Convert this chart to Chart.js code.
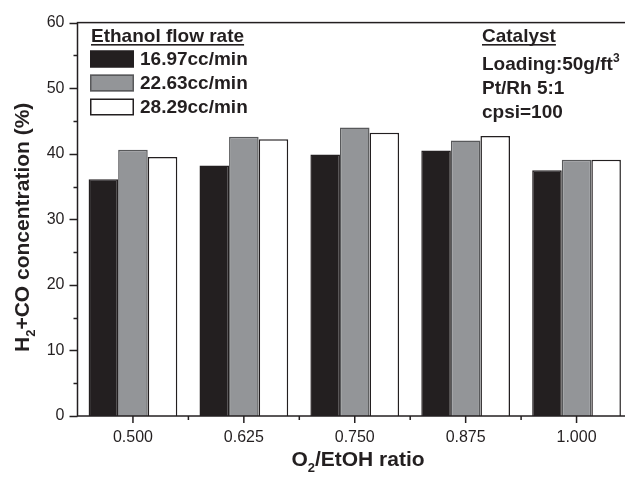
<!DOCTYPE html>
<html>
<head>
<meta charset="utf-8">
<script src="https://cdn.jsdelivr.net/npm/chart.js@4.4.1/dist/chart.umd.min.js"></script>
<style>
  html, body { margin: 0; padding: 0; background: #fff; overflow: hidden; }
  #wrap { position: relative; width: 660px; height: 484px; }
</style>
</head>
<body>
<div id="wrap"><canvas id="chart" width="660" height="484"></canvas></div>
<script>
/* O2/EtOH ratio vs H2+CO concentration, three ethanol flow rates */
const ratios = ['0.500', '0.625', '0.750', '0.875', '1.000'];
const flow1697 = [36.1, 38.2, 39.9, 40.5, 37.5];
const flow2263 = [40.6, 42.6, 44.0, 42.0, 39.1];
const flow2829 = [39.5, 42.2, 43.2, 42.7, 39.1];
const flowLabels = ['16.97cc/min', '22.63cc/min', '28.29cc/min'];
const yMin = 0, yMax = 60, yStep = 10, yMinor = 5;

const INK = '#231f20', GRAY = '#939598', GRAY_EDGE = '#58595b';
const FONT = '"Liberation Sans", Arial, sans-serif';

// draws text made of pieces, some of them sub/superscript
function rich(ctx, parts, x, y, size, align) {
  const small = Math.round(size * 0.62);
  const w = parts.reduce((s, p) => {
    ctx.font = `bold ${p.sub || p.sup ? small : size}px ${FONT}`;
    return s + ctx.measureText(p.t).width;
  }, 0);
  let cx = align === 'center' ? x - w / 2 : x;
  ctx.textAlign = 'left';
  ctx.textBaseline = 'alphabetic';
  parts.forEach(p => {
    ctx.font = `bold ${p.sub || p.sup ? small : size}px ${FONT}`;
    const dy = p.sub ? size * 0.3 : p.sup ? -size * 0.42 : 0;
    ctx.fillText(p.t, cx, y + dy);
    cx += ctx.measureText(p.t).width;
  });
  return w;
}

function underlined(ctx, text, x, y, size) {
  ctx.font = `bold ${size}px ${FONT}`;
  ctx.textAlign = 'left';
  ctx.textBaseline = 'alphabetic';
  ctx.fillText(text, x, y);
  const w = ctx.measureText(text).width;
  ctx.fillRect(x, y + 2, w, 1.6);
}

const decor = {
  id: 'decor',
  afterDraw(chart) {
    const { ctx, chartArea: a, scales: { x, y } } = chart;
    ctx.save();
    ctx.strokeStyle = INK; ctx.fillStyle = INK; ctx.lineWidth = 1.5;
    ctx.strokeRect(a.left, a.top, a.right - a.left, a.bottom - a.top);

    // y ticks, outward, minor every 5
    ctx.beginPath();
    for (let v = yMin; v <= yMax; v += yMinor) {
      const py = Math.round(y.getPixelForValue(v)) + 0.5;
      const len = v % yStep ? 4 : 8;
      ctx.moveTo(a.left - len, py); ctx.lineTo(a.left, py);
    }
    // x ticks, major under labels, minor between groups
    ratios.forEach((_, i) => {
      const px = x.getPixelForValue(i);
      ctx.moveTo(px, a.bottom); ctx.lineTo(px, a.bottom + 7);
      if (i < ratios.length - 1) {
        const mid = (px + x.getPixelForValue(i + 1)) / 2;
        ctx.moveTo(mid, a.bottom); ctx.lineTo(mid, a.bottom + 4);
      }
    });
    ctx.stroke();

    // legend
    underlined(ctx, 'Ethanol flow rate', 91, 42, 19);
    chart.data.datasets.forEach((ds, i) => {
      const cy = 59 + i * 24;
      ctx.fillStyle = ds.backgroundColor;
      ctx.fillRect(90, cy - 8.5, 44, 17);
      ctx.strokeStyle = ds.borderColor; ctx.lineWidth = 1.5;
      ctx.strokeRect(90.75, cy - 7.75, 42.5, 15.5);
      ctx.fillStyle = INK;
      ctx.font = `bold 19px ${FONT}`;
      ctx.textBaseline = 'middle';
      ctx.fillText(ds.label, 140, cy + 1);
    });

    // catalyst note
    underlined(ctx, 'Catalyst', 482, 42, 19);
    rich(ctx, [{ t: 'Loading:50g/ft' }, { t: '3', sup: true }], 482, 70, 19);
    rich(ctx, [{ t: 'Pt/Rh 5:1' }], 482, 94, 19);
    rich(ctx, [{ t: 'cpsi=100' }], 482, 118, 19);

    // axis titles
    rich(ctx, [{ t: 'O' }, { t: '2', sub: true }, { t: '/EtOH ratio' }], 358, 466, 21, 'center');
    ctx.translate(29, (a.top + a.bottom) / 2 + 8);
    ctx.rotate(-Math.PI / 2);
    rich(ctx, [{ t: 'H' }, { t: '2', sub: true }, { t: '+CO concentration (%)' }], 0, 0, 21, 'center');
    ctx.restore();
  }
};

const tickFont = { family: FONT, size: 16 };

new Chart(document.getElementById('chart'), {
  type: 'bar',
  data: {
    labels: ratios,
    datasets: [
      { label: flowLabels[0], data: flow1697, backgroundColor: INK, borderColor: INK },
      { label: flowLabels[1], data: flow2263, backgroundColor: GRAY, borderColor: GRAY_EDGE },
      { label: flowLabels[2], data: flow2829, backgroundColor: '#ffffff', borderColor: INK },
    ].map(d => Object.assign(d, { borderWidth: 1.5, categoryPercentage: 0.8, barPercentage: 1 })),
  },
  options: {
    responsive: false, animation: false, devicePixelRatio: 1,
    layout: { padding: { top: 16, right: 28, left: 0, bottom: 0 } },
    plugins: { legend: { display: false }, tooltip: { enabled: false } },
    scales: {
      x: {
        grid: { display: false, drawTicks: false }, border: { display: false },
        ticks: { font: tickFont, color: INK, padding: 12 },
        afterFit: s => { s.height = 68; },
      },
      y: {
        min: yMin, max: yMax,
        grid: { display: false, drawTicks: false }, border: { display: false },
        ticks: { stepSize: yStep, font: tickFont, color: INK, padding: 13 },
        afterFit: s => { s.width = 77.5; },
      },
    },
  },
  plugins: [decor],
});
</script>
</body>
</html>
